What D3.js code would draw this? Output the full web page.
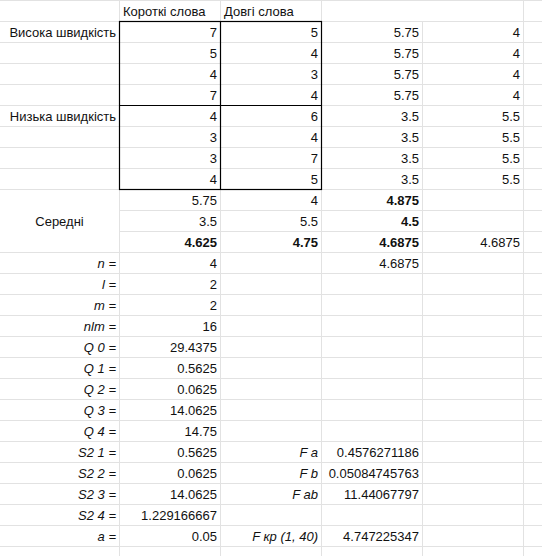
<!DOCTYPE html>
<html><head><meta charset="utf-8">
<script src="https://cdnjs.cloudflare.com/ajax/libs/d3/7.9.0/d3.min.js"></script>
<style>body{margin:0;background:#fff}svg{display:block;font-family:Arial,"Liberation Sans",sans-serif;font-size:13px}</style>
</head><body><svg id="sheet" width="542" height="556"></svg>
<script>
// column edges and row count of the sheet
const COLS = [0, 119, 220, 321, 422, 523, 542];
const ROWS = 27;
const ROW_H = 21;

const headers = ['Короткі слова', 'Довгі слова'];
const groupLabels = ['Висока швидкість', 'Низька швидкість'];
const shortWords = [7, 5, 4, 7, 4, 3, 3, 4];
const longWords = [5, 4, 3, 4, 6, 4, 7, 5];
const rowMeans = [5.75, 5.75, 5.75, 5.75, 3.5, 3.5, 3.5, 3.5];
const colMeans = [4, 4, 4, 4, 5.5, 5.5, 5.5, 5.5];
const meansRows = [
  ['5.75', '4', '4.875', ''],
  ['3.5', '5.5', '4.5', ''],
  ['4.625', '4.75', '4.6875', '4.6875']
];
const meanBold = [[0, 0, 1, 0], [0, 0, 1, 0], [1, 1, 1, 0]];
const statLabels = ['n =', 'l =', 'm =', 'nlm =', 'Q 0 =', 'Q 1 =', 'Q 2 =', 'Q 3 =', 'Q 4 =',
  'S2 1 =', 'S2 2 =', 'S2 3 =', 'S2 4 =', 'a ='];
const statValues = ['4', '2', '2', '16', '29.4375', '0.5625', '0.0625', '14.0625', '14.75',
  '0.5625', '0.0625', '14.0625', '1.229166667', '0.05'];
const fLabels = ['', '', '', '', '', '', '', '', '', 'F a', 'F b', 'F ab', '', 'F кр (1, 40)'];
const fValues = ['4.6875', '', '', '', '', '', '', '', '', '0.4576271186', '0.05084745763', '11.44067797', '', '4.747225347'];

const y = d3.scaleLinear().domain([0, ROWS]).range([0, ROWS * ROW_H]);
const svg = d3.select('#sheet');

// cells: {r, c, t, align, bold, italic}
const cells = [];
headers.forEach((t, i) => cells.push({ r: 0, c: i + 1, t, align: 'left' }));
shortWords.forEach((v, i) => {
  cells.push({ r: i + 1, c: 1, t: String(v) });
  cells.push({ r: i + 1, c: 2, t: String(longWords[i]) });
  cells.push({ r: i + 1, c: 3, t: String(rowMeans[i]) });
  cells.push({ r: i + 1, c: 4, t: String(colMeans[i]) });
});
groupLabels.forEach((t, i) => cells.push({ r: 1 + i * 4, c: 0, t }));
meansRows.forEach((row, i) => row.forEach((t, j) => {
  if (t) cells.push({ r: 9 + i, c: j + 1, t, bold: meanBold[i][j] });
}));
cells.push({ r: 10, c: 0, t: 'Середні', align: 'center' });
statLabels.forEach((t, i) => {
  cells.push({ r: 12 + i, c: 0, t, italic: true });
  cells.push({ r: 12 + i, c: 1, t: statValues[i] });
  if (fLabels[i]) cells.push({ r: 12 + i, c: 2, t: fLabels[i], italic: true });
  if (fValues[i]) cells.push({ r: 12 + i, c: 3, t: fValues[i] });
});

// grid lines
const grid = svg.append('g').attr('stroke', '#e2e2e2').attr('stroke-width', 1);
for (let r = 0; r <= ROWS; r++) {
  const yy = Math.round(y(r)) + 0.5;
  COLS.slice(0, -1).forEach((x0, c) => {
    if (c === 0 && (r === 10 || r === 11)) return; // merged "Середні"
    grid.append('line').attr('x1', x0).attr('x2', COLS[c + 1]).attr('y1', yy).attr('y2', yy);
  });
}
COLS.slice(1).forEach((x, ci) => {
  for (let r = 0; r < ROWS; r++) {
    if (r === 0 && ci === 3) continue;
    grid.append('line').attr('x1', x + 0.5).attr('x2', x + 0.5).attr('y1', y(r)).attr('y2', y(r + 1));
  }
});

// black box round the raw data
const box = svg.append('g').attr('stroke', '#000').attr('fill', 'none').attr('stroke-width', 1.2);
box.append('rect').attr('x', COLS[1] + 0.5).attr('y', y(1) + 0.5)
  .attr('width', COLS[3] - COLS[1]).attr('height', y(9) - y(1));
box.append('line').attr('x1', COLS[2] + 0.5).attr('x2', COLS[2] + 0.5).attr('y1', y(1)).attr('y2', y(9));
box.append('line').attr('x1', COLS[1]).attr('x2', COLS[3]).attr('y1', y(5) + 0.5).attr('y2', y(5) + 0.5);

svg.append('g').selectAll('text').data(cells).join('text')
  .attr('x', d => d.align === 'left' ? COLS[d.c] + 4 : d.align === 'center' ? (COLS[d.c] + COLS[d.c + 1]) / 2 : COLS[d.c + 1] - 3)
  .attr('y', d => y(d.r) + 15.5)
  .attr('text-anchor', d => d.align === 'left' ? 'start' : d.align === 'center' ? 'middle' : 'end')
  .attr('font-weight', d => d.bold ? 'bold' : null)
  .attr('font-style', d => d.italic ? 'italic' : null)
  .attr('fill', '#111')
  .text(d => d.t);
</script></body></html>
